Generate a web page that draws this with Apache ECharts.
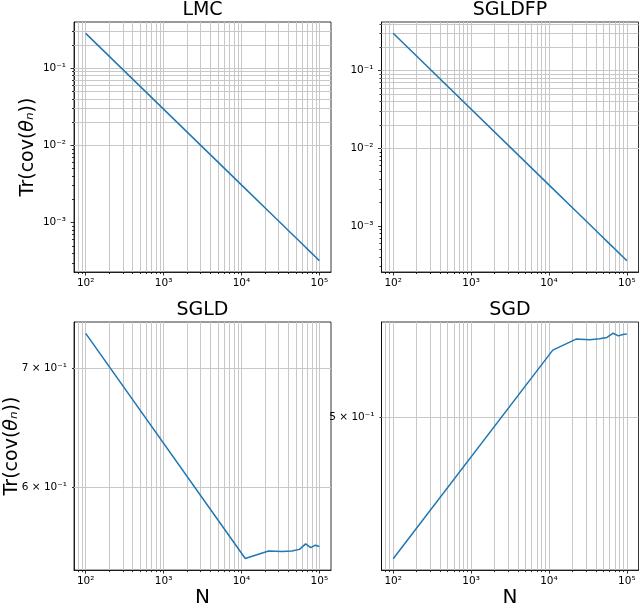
<!DOCTYPE html>
<html>
<head>
<meta charset="utf-8">
<script src="https://cdn.jsdelivr.net/npm/echarts@6/dist/echarts.min.js"></script>
<style>
  html, body { margin: 0; padding: 0; background: #fff; }
  #chart { width: 640px; height: 609px; }
</style>
</head>
<body>
<div id="chart"></div>
<script>
// sample sizes (x) shared by all four panels
const nValues = [100, 11200, 22300, 33400, 44500, 55600, 66700, 77800, 88900, 100000];

// Tr(cov(theta_n))
const lmcTrace = [0.283, 0.002753, 0.001400, 0.000941, 0.000710, 0.000571, 0.000477, 0.000410, 0.000360, 0.000321];
const sgldfpTrace = [0.303, 0.003027, 0.001546, 0.001042, 0.000787, 0.000633, 0.000530, 0.000456, 0.000401, 0.000357];
const sgldTrace = [0.7325, 0.5468, 0.5521, 0.5518, 0.5521, 0.5533, 0.5573, 0.5546, 0.5563, 0.5554];
const sgdTrace = [0.4165, 0.5449, 0.5527, 0.5522, 0.5530, 0.5539, 0.5569, 0.5550, 0.5560, 0.5563];

// major ticks of the log axes
const xMajorTicks = [100, 1000, 10000, 100000];
const topYMajorTicks = [0.001, 0.01, 0.1];
// minor ticks / grid lines of the log axes
const xMinorTicks = [80, 90, 200, 300, 400, 500, 600, 700, 800, 900,
  2000, 3000, 4000, 5000, 6000, 7000, 8000, 9000,
  20000, 30000, 40000, 50000, 60000, 70000, 80000, 90000];
const topYMinorTicks = [0.0003, 0.0004, 0.0005, 0.0006, 0.0007, 0.0008, 0.0009,
  0.002, 0.003, 0.004, 0.005, 0.006, 0.007, 0.008, 0.009,
  0.02, 0.03, 0.04, 0.05, 0.06, 0.07, 0.08, 0.09,
  0.2, 0.3, 0.4];

// labelled minor ticks of the two bottom panels
const sgldTickValues = [0.6, 0.7];
const sgldTickLabels = ['6 × 10⁻¹', '7 × 10⁻¹'];
const sgdTickValues = [0.5];
const sgdTickLabels = ['5 × 10⁻¹'];

// axis extents (matplotlib autoscale with 5% margin)
const xRange = [70.8, 141254];
const lmcYRange = [0.0002285, 0.3972];
const sgldfpYRange = [0.000255, 0.4240];
const sgldYRange = [0.5386, 0.7434];
const sgdYRange = [0.4105, 0.5650];

const FONT = 'DejaVu Sans';
const GRID_COLOR = '#c8c8c8';
const SUP = { '0': '⁰', '1': '¹', '2': '²', '3': '³', '4': '⁴', '5': '⁵', '6': '⁶', '7': '⁷', '8': '⁸', '9': '⁹', '-': '⁻' };

function powLabel(v) {
  const p = Math.log10(v);
  const r = Math.round(p);
  if (Math.abs(p - r) > 1e-6) return '';
  return '10' + String(r).split('').map(c => SUP[c]).join('');
}

const panels = [
  { title: 'LMC', left: 74, top: 22, width: 257, height: 250, trace: lmcTrace, yRange: lmcYRange,
    yMajor: topYMajorTicks, yMinor: topYMinorTicks, yLabels: null, yName: 36, xName: false },
  { title: 'SGLDFP', left: 381.5, top: 22, width: 257, height: 250, trace: sgldfpTrace, yRange: sgldfpYRange,
    yMajor: topYMajorTicks, yMinor: topYMinorTicks, yLabels: null, yName: 0, xName: false },
  { title: 'SGLD', left: 74, top: 322, width: 257, height: 249, trace: sgldTrace, yRange: sgldYRange,
    yMajor: [], yMinor: sgldTickValues, yLabels: sgldTickLabels, yName: 52, xName: true },
  { title: 'SGD', left: 381.5, top: 322, width: 257, height: 249, trace: sgdTrace, yRange: sgdYRange,
    yMajor: [], yMinor: sgdTickValues, yLabels: sgdTickLabels, yName: 0, xName: true }
];

const myChart = echarts.init(document.getElementById('chart'));

const option = {
  animation: false,
  backgroundColor: '#fff',
  textStyle: { fontFamily: FONT },
  title: [],
  grid: [],
  xAxis: [],
  yAxis: [],
  series: []
};

const tickStyle = { color: '#000', width: 0.8 };

panels.forEach((p, i) => {
  const inRange = (v, r) => v >= r[0] && v <= r[1];
  const xMinor = xMinorTicks.filter(v => inRange(v, xRange));
  const yMinor = p.yMinor.filter(v => inRange(v, p.yRange));
  const yMajor = p.yMajor.filter(v => inRange(v, p.yRange));

  option.title.push({
    text: p.title,
    left: p.left + p.width / 2,
    top: p.top - 21,
    textAlign: 'center',
    padding: 0,
    textStyle: { fontFamily: FONT, fontSize: 19, fontWeight: 'normal', color: '#000' }
  });

  option.grid.push({
    left: p.left, top: p.top, width: p.width, height: p.height,
    show: true, borderColor: '#000', borderWidth: 0.8, backgroundColor: '#fff'
  });

  // main axes: major ticks + labels
  option.xAxis.push({
    type: 'log',
    gridIndex: i,
    min: xRange[0],
    max: xRange[1],
    name: p.xName ? 'N' : '',
    nameLocation: 'middle',
    nameGap: 13,
    nameTextStyle: { fontFamily: FONT, fontSize: 20, color: '#000', verticalAlign: 'top' },
    axisLine: { show: true, lineStyle: { color: '#000', width: 0.8 } },
    axisTick: { show: true, length: 3.5, customValues: xMajorTicks, lineStyle: tickStyle },
    axisLabel: { formatter: powLabel, customValues: xMajorTicks, fontFamily: FONT, fontSize: 10.5, color: '#000', margin: 6 },
    splitLine: { show: false }
  });

  option.yAxis.push({
    type: 'log',
    gridIndex: i,
    min: p.yRange[0],
    max: p.yRange[1],
    name: p.yName ? '{a|Tr(cov(}{b|θₙ}{a|))}' : '',
    nameLocation: 'middle',
    nameRotate: 90,
    nameGap: p.yName,
    nameTextStyle: {
      rich: {
        a: { fontFamily: FONT, fontSize: 19, color: '#000' },
        b: { fontFamily: FONT, fontSize: 19, color: '#000', fontStyle: 'italic' }
      }
    },
    axisLine: { show: true, lineStyle: { color: '#000', width: 0.8 } },
    axisTick: { show: yMajor.length > 0, length: 3.5, customValues: yMajor, lineStyle: tickStyle },
    axisLabel: {
      show: yMajor.length > 0, formatter: powLabel, customValues: yMajor,
      fontFamily: FONT, fontSize: 10.5, color: '#000', margin: 8
    },
    splitLine: { show: false }
  });

  // grid lines, drawn below the curve
  const lines = xMinor.concat(xMajorTicks).map(v => ({ xAxis: v }));
  yMinor.concat(yMajor).forEach((v) => {
    const item = { yAxis: v };
    const k = p.yLabels ? p.yMinor.indexOf(v) : -1;
    if (k >= 0) {
      item.name = p.yLabels[k];
      item.label = {
        show: true, position: 'start', formatter: '{b}', distance: 7,
        fontFamily: FONT, fontSize: 10.5, color: '#000'
      };
    }
    lines.push(item);
  });

  option.series.push({
    type: 'line',
    xAxisIndex: i,
    yAxisIndex: i,
    data: [],
    z: 1,
    silent: true,
    markLine: {
      silent: true,
      symbol: 'none',
      animation: false,
      z: 1,
      label: { show: false },
      lineStyle: { color: GRID_COLOR, width: 1, type: 'solid' },
      emphasis: { disabled: true },
      data: lines
    }
  });

  option.series.push({
    name: p.title,
    type: 'line',
    xAxisIndex: i,
    yAxisIndex: i,
    z: 3,
    showSymbol: false,
    lineStyle: { color: '#1f77b4', width: 1.5 },
    itemStyle: { color: '#1f77b4' },
    data: nValues.map((n, k) => [n, p.trace[k]])
  });
});

// second set of axes per panel that only carries the short minor ticks
panels.forEach((p, i) => {
  const inRange = (v, r) => v >= r[0] && v <= r[1];
  option.xAxis.push({
    type: 'log', gridIndex: i, min: xRange[0], max: xRange[1], position: 'bottom',
    axisLine: { show: false },
    axisTick: { show: true, length: 2, customValues: xMinorTicks.filter(v => inRange(v, xRange)), lineStyle: tickStyle },
    axisLabel: { show: false },
    splitLine: { show: false }
  });
  option.yAxis.push({
    type: 'log', gridIndex: i, min: p.yRange[0], max: p.yRange[1], position: 'left',
    axisLine: { show: false },
    axisTick: { show: true, length: 2, customValues: p.yMinor.filter(v => inRange(v, p.yRange)), lineStyle: tickStyle },
    axisLabel: { show: false },
    splitLine: { show: false }
  });
});

myChart.setOption(option);
</script>
</body>
</html>
